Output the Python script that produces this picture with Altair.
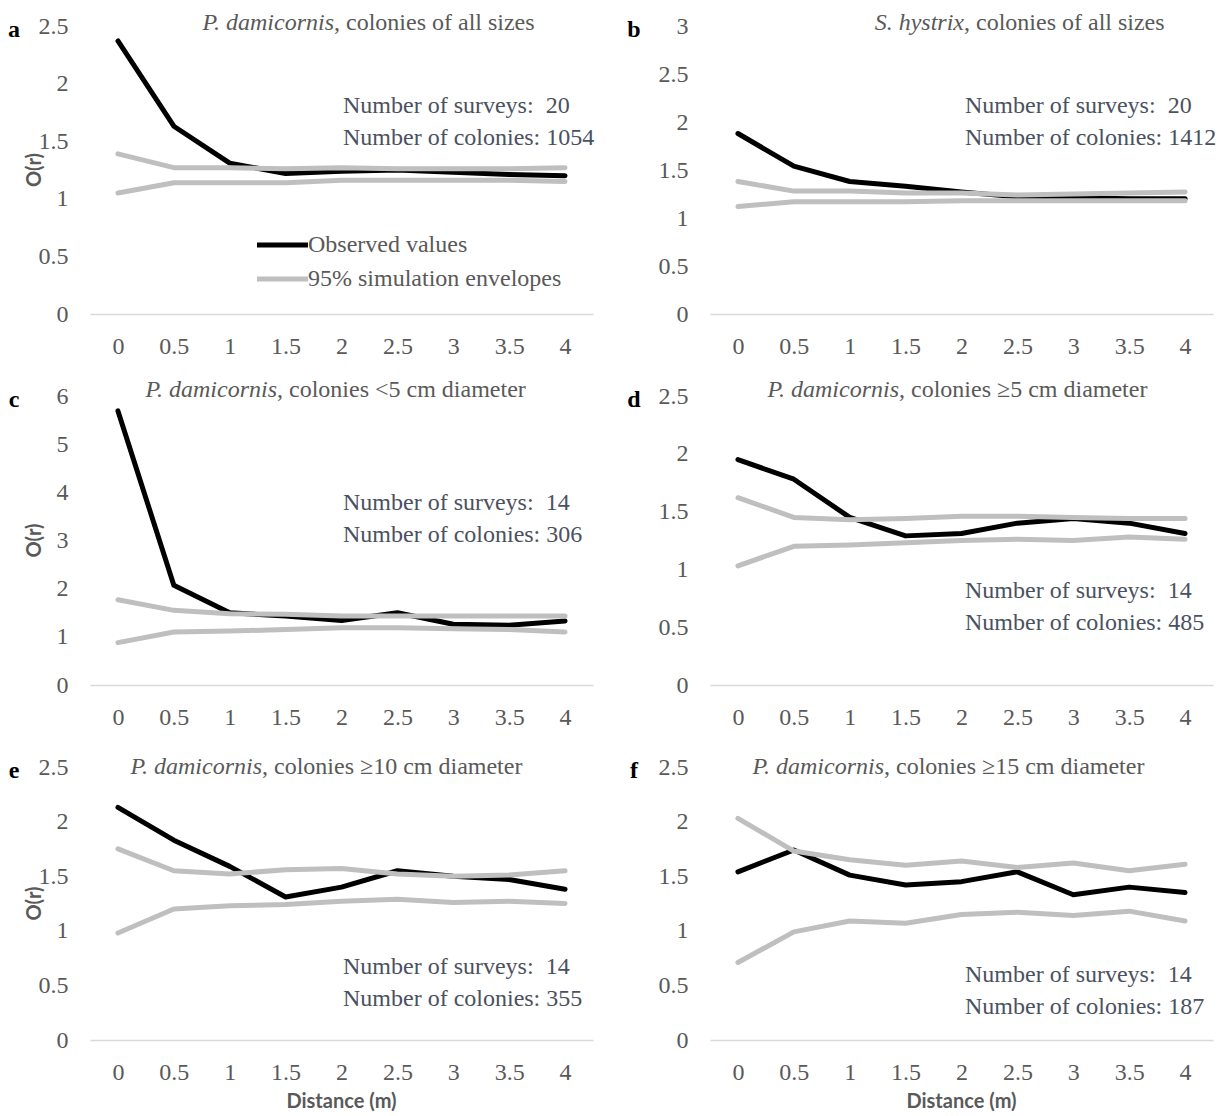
import altair as alt
import pandas as pd

r = [0, 0.5, 1, 1.5, 2, 2.5, 3, 3.5, 4]

a_obs = [2.37, 1.63, 1.31, 1.22, 1.24, 1.25, 1.23, 1.21, 1.20]
a_hi = [1.39, 1.27, 1.27, 1.26, 1.27, 1.26, 1.26, 1.26, 1.27]
a_lo = [1.05, 1.14, 1.14, 1.14, 1.16, 1.16, 1.16, 1.16, 1.15]

b_obs = [1.88, 1.54, 1.38, 1.33, 1.27, 1.22, 1.21, 1.20, 1.20]
b_hi = [1.38, 1.28, 1.28, 1.26, 1.26, 1.24, 1.25, 1.26, 1.27]
b_lo = [1.12, 1.17, 1.17, 1.17, 1.18, 1.18, 1.18, 1.18, 1.18]

c_obs = [5.69, 2.07, 1.50, 1.43, 1.34, 1.50, 1.26, 1.24, 1.33]
c_hi = [1.77, 1.55, 1.48, 1.47, 1.43, 1.43, 1.43, 1.43, 1.43]
c_lo = [0.88, 1.10, 1.12, 1.15, 1.19, 1.19, 1.17, 1.15, 1.10]

d_obs = [1.95, 1.78, 1.45, 1.29, 1.31, 1.40, 1.44, 1.40, 1.31]
d_hi = [1.62, 1.45, 1.43, 1.44, 1.46, 1.46, 1.45, 1.44, 1.44]
d_lo = [1.03, 1.20, 1.21, 1.23, 1.25, 1.26, 1.25, 1.28, 1.26]

e_obs = [2.13, 1.83, 1.59, 1.31, 1.40, 1.55, 1.50, 1.47, 1.38]
e_hi = [1.75, 1.55, 1.52, 1.56, 1.57, 1.52, 1.50, 1.51, 1.55]
e_lo = [0.98, 1.20, 1.23, 1.24, 1.27, 1.29, 1.26, 1.27, 1.25]

f_obs = [1.54, 1.74, 1.51, 1.42, 1.45, 1.54, 1.33, 1.40, 1.35]
f_hi = [2.03, 1.73, 1.65, 1.60, 1.64, 1.58, 1.62, 1.55, 1.61]
f_lo = [0.71, 0.99, 1.09, 1.07, 1.15, 1.17, 1.14, 1.18, 1.09]

y_ticks_25 = [0, 0.5, 1, 1.5, 2, 2.5]
y_ticks_3 = [0, 0.5, 1, 1.5, 2, 2.5, 3]
y_ticks_6 = [0, 1, 2, 3, 4, 5, 6]

SERIF = "Liberation Serif"
SANS = "Lato"
GREY_TXT = "#595959"
ANN_TXT = "#4a5160"
W = 503
ONE = pd.DataFrame({"k": [0]})


def txt(text, x, y, **kw):
    params = dict(text=text, font=SERIF, fontSize=24, color=GREY_TXT,
                  baseline="middle", align="left")
    params.update(kw)
    return alt.Chart(ONE).mark_text(**params).encode(x=alt.value(x), y=alt.value(y))


def panel(obs, hi, lo, yvals, h, letter, it, rest, split, ty,
          surveys, colonies, ann_x, ann_y, left, bottom, legend=False):
    rows = []
    for s, vals in (("obs", obs), ("hi", hi), ("lo", lo)):
        for x, v in zip(r, vals):
            rows.append({"r": x, "v": v, "s": s})
    df = pd.DataFrame(rows)
    xs = alt.X("r:Q", scale=alt.Scale(domain=[-0.25, 4.25], nice=False, zero=False),
               axis=alt.Axis(values=r, format=".1~f", title=None, grid=False, ticks=False,
                             tickSize=0, labelPadding=32, labelBaseline="middle",
                             domainColor="#d9d9d9", domainWidth=1.5, labelFontSize=24,
                             labelColor=GREY_TXT, labelFont=SERIF, labelFlush=False))
    ys = alt.Y("v:Q", scale=alt.Scale(domain=[0, yvals[-1]], nice=False),
               axis=alt.Axis(values=yvals, format="~g", title=None, grid=False, domain=False,
                             ticks=False, tickSize=0, labelPadding=22, labelFontSize=24,
                             labelColor=GREY_TXT, labelFont=SERIF, labelFlush=False))
    base = alt.Chart(df)
    obs_line = base.transform_filter("datum.s == 'obs'").mark_line(
        color="black", strokeWidth=5, strokeCap="round", strokeJoin="round").encode(x=xs, y=ys)
    env = base.transform_filter("datum.s != 'obs'").mark_line(
        color="#bfbfbf", strokeWidth=5, strokeCap="round", strokeJoin="round").encode(
        x=xs, y=ys, detail="s:N")
    layers = [obs_line, env,
              txt(it, split, ty, align="right", fontStyle="italic"),
              txt(rest, split, ty),
              txt(letter, -76, 4, align="center", fontWeight="bold", color="black"),
              txt("Number of surveys:\u00a0 " + surveys, ann_x, ann_y, color=ANN_TXT),
              txt("Number of colonies: " + colonies, ann_x, ann_y + 32, color=ANN_TXT)]
    if left:
        layers.append(alt.Chart(ONE).mark_text(text="O(r)", font=SANS, fontSize=20,
                                               fontWeight="bold", color=GREY_TXT, angle=270,
                                               baseline="middle", align="center").encode(
            x=alt.value(-55), y=alt.value(h / 2)))
    if bottom:
        layers.append(alt.Chart(ONE).mark_text(text="Distance (m)", font=SANS, fontSize=20,
                                               fontWeight="bold", color=GREY_TXT,
                                               baseline="middle", align="center").encode(
            x=alt.value(W / 2), y=alt.value(h + 62)))
    if legend:
        layers.append(alt.Chart(ONE).mark_rule(color="black", strokeWidth=5).encode(
            x=alt.value(167), x2=alt.value(218), y=alt.value(219)))
        layers.append(alt.Chart(ONE).mark_rule(color="#bfbfbf", strokeWidth=5).encode(
            x=alt.value(167), x2=alt.value(218), y=alt.value(253)))
        layers.append(txt("Observed values", 218, 219))
        layers.append(txt("95% simulation envelopes", 218, 253))
    return alt.layer(*layers).properties(width=W, height=h)


pa = panel(a_obs, a_hi, a_lo, y_ticks_25, 288, "a", "P. damicornis", ", colonies of all sizes",
           244, -3, "20", "1054", 253, 80, True, False, legend=True)
pb = panel(b_obs, b_hi, b_lo, y_ticks_3, 288, "b", "S. hystrix", ", colonies of all sizes",
           254, -3, "20", "1412", 255, 80, False, False)
pc = panel(c_obs, c_hi, c_lo, y_ticks_6, 289, "c", "P. damicornis", ", colonies <5 cm diameter",
           187, -6, "14", "306", 253, 107, True, False)
pd_ = panel(d_obs, d_hi, d_lo, y_ticks_25, 289, "d", "P. damicornis", ", colonies \u22655 cm diameter",
            189, -6, "14", "485", 255, 195, False, False)
pe = panel(e_obs, e_hi, e_lo, y_ticks_25, 273, "e", "P. damicornis", ", colonies \u226510 cm diameter",
           172, 0, "14", "355", 253, 200, True, True)
pf = panel(f_obs, f_hi, f_lo, y_ticks_25, 273, "f", "P. damicornis", ", colonies \u226515 cm diameter",
           174, 0, "14", "187", 255, 208, False, True)

chart = alt.concat(pa, pb, pc, pd_, pe, pf, columns=2,
                   spacing=alt.RowColnumber(row=82, column=117), bounds="flush").properties(
    padding={"left": 0, "top": 3, "right": 0, "bottom": 0}, background="white"
).configure_view(stroke=None)

chart.save("out.html", embed_options={"renderer": "svg", "actions": False})
